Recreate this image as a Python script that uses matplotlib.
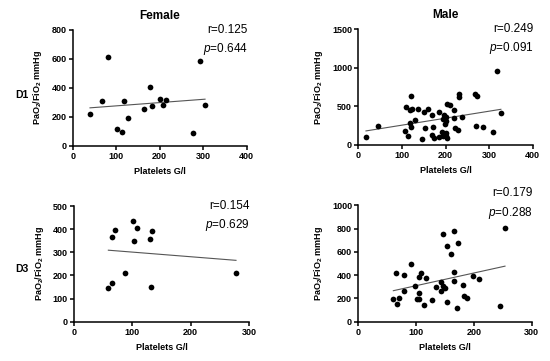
import numpy as np
import matplotlib
matplotlib.use("Agg")
import matplotlib.pyplot as plt

plt.rcParams['font.family'] = ['Liberation Sans', 'DejaVu Sans']
plt.rcParams['mathtext.fontset'] = 'custom'
plt.rcParams['mathtext.rm'] = 'Liberation Sans'
plt.rcParams['mathtext.it'] = 'Liberation Sans:italic'
plt.rcParams['mathtext.bf'] = 'Liberation Sans:bold'

# Female D1
f1_x = [39.8, 66.7, 80.5, 101, 112.6, 117.2, 126.4, 164.8, 178.6, 182.4, 201.5, 208.4, 213.8, 275.9, 293.5, 304.2]
f1_y = [219, 307, 611, 118, 92, 309, 189, 251, 408, 274, 320, 279, 316, 88, 588, 279]
# Male D1
m1_x = [17.6, 44.4, 107, 109, 113, 118, 120, 121, 118, 124, 129, 138, 145, 151, 154, 159, 168, 170, 172, 174,
        184, 186, 191, 194, 195, 197, 199, 200, 201, 203, 202, 202, 204, 210, 219, 220, 222, 229, 232, 232,
        237, 270, 268, 273, 287, 308, 317, 327]
m1_y = [104, 246, 182, 489, 112, 281, 238, 631, 454, 463, 329, 463, 80, 432, 220, 463, 393, 130, 229, 95,
        108, 432, 169, 117, 333, 385, 268, 359, 117, 95, 151, 311, 527, 514, 450, 350, 216, 199, 666, 623,
        363, 246, 657, 640, 238, 164, 960, 419]
# Female D3
f3_x = [58.9, 64.6, 64.6, 70.9, 87.4, 100.6, 102.9, 107.4, 130.3, 131.4, 134.3, 277.7]
f3_y = [144, 169, 365, 398, 209, 435, 347, 406, 359, 151, 391, 209]
# Male D3
m3_x = [60.6, 64.6, 67.5, 70.4, 79.6, 79.6, 91.7, 98.6, 101, 105, 105, 105.6, 108.5, 113, 117.7, 126.9, 135,
        142.5, 143.7, 147, 147, 150.5, 153.5, 154, 161, 165.6, 166, 166, 170.2, 172.5, 180.6, 183.5, 187.5,
        198.5, 209.4, 244.6, 253.8]
m3_y = [195, 418, 149, 203, 398, 266, 496, 307, 195, 381, 244, 198, 421, 140, 375, 189, 295, 344, 264, 307,
        754, 292, 166, 647, 582, 776, 424, 352, 120, 673, 312, 218, 201, 395, 364, 135, 808]

r_texts = ["r=0.125", "r=0.249", "r=0.154", "r=0.179"]
p_texts = ["0.644", "0.091", "0.629", "0.288"]
titles = ["Female", "Male"]
rows = ["D1", "D3"]

W, H = 550, 361
fig = plt.figure(figsize=(W / 100, H / 100), dpi=100)

def box(l, r, t, b):
    return [l / W, 1 - b / H, (r - l) / W, (b - t) / H]

panels = [
    (box(72.7, 246.7, 30, 145.7), f1_x, f1_y, (0, 400), [0, 100, 200, 300, 400], (0, 800), [0, 200, 400, 600, 800]),
    (box(358.3, 532.7, 29.3, 145), m1_x, m1_y, (0, 400), [0, 100, 200, 300, 400], (0, 1500), [0, 500, 1000, 1500]),
    (box(74, 249, 206, 321.7), f3_x, f3_y, (0, 300), [0, 100, 200, 300], (0, 500), [0, 100, 200, 300, 400, 500]),
    (box(358.3, 531.7, 205.3, 321.7), m3_x, m3_y, (0, 300), [0, 100, 200, 300], (0, 1000), [0, 200, 400, 600, 800, 1000]),
]
# vertical offset (pixels) of the r/p annotation relative to axes top
text_shift = [0, 0, 0, 12]

for i, (rect, xs, ys, xl, xt, yl, yt) in enumerate(panels):
    ax = fig.add_axes(rect)
    xs = np.array(xs); ys = np.array(ys)
    ax.scatter(xs, ys, s=17, color='black', zorder=3, linewidths=0, clip_on=False)
    k, b0 = np.polyfit(xs, ys, 1)
    lx = np.array([xs.min(), xs.max()])
    ax.plot(lx, k * lx + b0, color='#555555', lw=0.8, zorder=2)
    ax.set_xlim(*xl); ax.set_ylim(*yl)
    ax.set_xticks(xt); ax.set_yticks(yt)
    for s in ['top', 'right']:
        ax.spines[s].set_visible(False)
    for s in ['left', 'bottom']:
        ax.spines[s].set_linewidth(1.1)
    ax.tick_params(direction='out', length=3, width=1.1, labelsize=6.5, pad=1.5)
    for lab in ax.get_xticklabels() + ax.get_yticklabels():
        lab.set_fontweight('bold')
    ax.set_xlabel('Platelets G/l', fontsize=6.5, fontweight='bold', labelpad=4)
    ax.set_ylabel(r'$\mathbf{PaO_2/FiO_2}$ mmHg', fontsize=6.5, fontweight='bold', labelpad=5)
    hpx = rect[3] * H
    dy = text_shift[i] / hpx
    ax.text(1.005, 1.0 + dy, r_texts[i], transform=ax.transAxes, ha='right', va='center', fontsize=8.5)
    ax.text(1.005, 0.835 + dy, r'$\it{p}$=' + p_texts[i], transform=ax.transAxes, ha='right', va='center', fontsize=8.5)
    if i < 2:
        ax.set_title(titles[i], fontsize=8.5, fontweight='bold', pad=8)

fig.text(22 / W, 1 - 95 / H, 'D1', fontsize=7.5, fontweight='bold', ha='center', va='center')
fig.text(22 / W, 1 - 269 / H, 'D3', fontsize=7.5, fontweight='bold', ha='center', va='center')

fig.savefig('out.png', dpi=100)
